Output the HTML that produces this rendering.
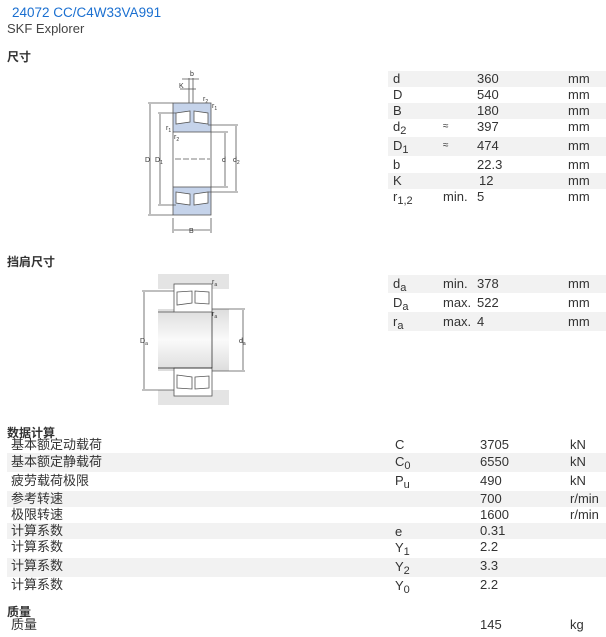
<!DOCTYPE html>
<html><head><meta charset="utf-8"><style>
body{margin:0;width:606px;height:637px;background:#fff;font-family:"Liberation Sans","Noto Sans CJK SC",sans-serif;color:#333;position:relative;overflow:hidden}
.a{position:absolute;white-space:nowrap}
.t{font-size:13px;line-height:16px}
.sh{position:absolute;background:#f2f2f2}
sub{font-size:11px;vertical-align:-3px;line-height:0}
</style></head><body>
<div class="a" style="left:12px;top:5px;font-size:13.5px;color:#1a6fd0">24072 CC/C4W33VA991</div>
<div class="a t" style="left:7px;top:21px;color:#444">SKF Explorer</div>
<div class="a" style="left:7px;top:48px;font-size:12px;font-weight:bold;color:#333">尺寸</div>
<div class="a" style="left:7px;top:253px;font-size:12px;font-weight:bold;color:#333">挡肩尺寸</div>

<div class="sh" style="left:388px;top:71px;width:218px;height:16px"></div>
<div class="sh" style="left:388px;top:103px;width:218px;height:16px"></div>
<div class="sh" style="left:388px;top:137px;width:218px;height:19px"></div>
<div class="sh" style="left:388px;top:173px;width:218px;height:16px"></div>
<div class="a t" style="left:393px;top:71px">d</div><div class="a t" style="left:477px;top:71px">360</div><div class="a t" style="left:568px;top:71px">mm</div>
<div class="a t" style="left:393px;top:87px">D</div><div class="a t" style="left:477px;top:87px">540</div><div class="a t" style="left:568px;top:87px">mm</div>
<div class="a t" style="left:393px;top:103px">B</div><div class="a t" style="left:477px;top:103px">180</div><div class="a t" style="left:568px;top:103px">mm</div>
<div class="a t" style="left:393px;top:119px">d<sub>2</sub></div><div class="a t" style="left:443px;top:119px;font-size:10px">≈</div><div class="a t" style="left:477px;top:119px">397</div><div class="a t" style="left:568px;top:119px">mm</div>
<div class="a t" style="left:393px;top:138px">D<sub>1</sub></div><div class="a t" style="left:443px;top:138px;font-size:10px">≈</div><div class="a t" style="left:477px;top:138px">474</div><div class="a t" style="left:568px;top:138px">mm</div>
<div class="a t" style="left:393px;top:157px">b</div><div class="a t" style="left:477px;top:157px">22.3</div><div class="a t" style="left:568px;top:157px">mm</div>
<div class="a t" style="left:393px;top:173px">K</div><div class="a t" style="left:479px;top:173px">12</div><div class="a t" style="left:568px;top:173px">mm</div>
<div class="a t" style="left:393px;top:189px">r<sub>1,2</sub></div><div class="a t" style="left:443px;top:189px">min.</div><div class="a t" style="left:477px;top:189px">5</div><div class="a t" style="left:568px;top:189px">mm</div>

<div class="sh" style="left:388px;top:275px;width:218px;height:18px"></div>
<div class="sh" style="left:388px;top:312px;width:218px;height:19px"></div>
<div class="a t" style="left:393px;top:276px">d<sub>a</sub></div><div class="a t" style="left:443px;top:276px">min.</div><div class="a t" style="left:477px;top:276px">378</div><div class="a t" style="left:568px;top:276px">mm</div>
<div class="a t" style="left:393px;top:295px">D<sub>a</sub></div><div class="a t" style="left:443px;top:295px">max.</div><div class="a t" style="left:477px;top:295px">522</div><div class="a t" style="left:568px;top:295px">mm</div>
<div class="a t" style="left:393px;top:314px">r<sub>a</sub></div><div class="a t" style="left:443px;top:314px">max.</div><div class="a t" style="left:477px;top:314px">4</div><div class="a t" style="left:568px;top:314px">mm</div>

<div class="a" style="left:7px;top:424px;font-size:12px;font-weight:bold">数据计算</div>
<div class="sh" style="left:7px;top:453px;width:599px;height:19px"></div>
<div class="sh" style="left:7px;top:491px;width:599px;height:16px"></div>
<div class="sh" style="left:7px;top:523px;width:599px;height:16px"></div>
<div class="sh" style="left:7px;top:558px;width:599px;height:19px"></div>
<div class="a t" style="left:11px;top:437px">基本额定动载荷</div><div class="a t" style="left:395px;top:437px">C</div><div class="a t" style="left:480px;top:437px">3705</div><div class="a t" style="left:570px;top:437px">kN</div>
<div class="a t" style="left:11px;top:454px">基本额定静载荷</div><div class="a t" style="left:395px;top:454px">C<sub>0</sub></div><div class="a t" style="left:480px;top:454px">6550</div><div class="a t" style="left:570px;top:454px">kN</div>
<div class="a t" style="left:11px;top:473px">疲劳载荷极限</div><div class="a t" style="left:395px;top:473px">P<sub>u</sub></div><div class="a t" style="left:480px;top:473px">490</div><div class="a t" style="left:570px;top:473px">kN</div>
<div class="a t" style="left:11px;top:491px">参考转速</div><div class="a t" style="left:480px;top:491px">700</div><div class="a t" style="left:570px;top:491px">r/min</div>
<div class="a t" style="left:11px;top:507px">极限转速</div><div class="a t" style="left:480px;top:507px">1600</div><div class="a t" style="left:570px;top:507px">r/min</div>
<div class="a t" style="left:11px;top:523px">计算系数</div><div class="a t" style="left:395px;top:524px">e</div><div class="a t" style="left:480px;top:523px">0.31</div>
<div class="a t" style="left:11px;top:539px">计算系数</div><div class="a t" style="left:395px;top:540px">Y<sub>1</sub></div><div class="a t" style="left:480px;top:539px">2.2</div>
<div class="a t" style="left:11px;top:558px">计算系数</div><div class="a t" style="left:395px;top:559px">Y<sub>2</sub></div><div class="a t" style="left:480px;top:558px">3.3</div>
<div class="a t" style="left:11px;top:577px">计算系数</div><div class="a t" style="left:395px;top:578px">Y<sub>0</sub></div><div class="a t" style="left:480px;top:577px">2.2</div>
<div class="a" style="left:7px;top:603px;font-size:12px;font-weight:bold">质量</div>
<div class="a t" style="left:11px;top:617px">质量</div><div class="a t" style="left:480px;top:617px">145</div><div class="a t" style="left:570px;top:617px">kg</div>

<svg class="a" style="left:0;top:0" width="606" height="637" font-family="Liberation Sans,sans-serif" font-size="7" fill="#333">
<g stroke="#555" stroke-width="0.8" fill="none">
<rect x="173" y="103" width="38" height="29" fill="#c5d3ea"/>
<rect x="173" y="187" width="38" height="28" fill="#c5d3ea"/>
<path d="M176 113 L190 111 L190 122 L176 124Z M194 111 L208 113 L208 124 L194 122Z" fill="#fff"/>
<path d="M176 192 L190 194 L190 205 L176 203Z M194 194 L208 192 L208 203 L194 205Z" fill="#fff"/>
<line x1="173" y1="132" x2="173" y2="187"/><line x1="211" y1="132" x2="211" y2="187"/>
<line x1="148" y1="103" x2="173" y2="103"/><line x1="148" y1="215" x2="173" y2="215"/>
<line x1="150" y1="104" x2="150" y2="214"/>
<line x1="158" y1="113" x2="176" y2="113"/><line x1="158" y1="205" x2="176" y2="205"/>
<line x1="160" y1="114" x2="160" y2="204"/>
<line x1="211" y1="132" x2="228" y2="132"/><line x1="211" y1="187" x2="228" y2="187"/>
<line x1="225" y1="133" x2="225" y2="186"/>
<line x1="208" y1="125" x2="238" y2="125"/><line x1="208" y1="192" x2="238" y2="192"/>
<line x1="236" y1="126" x2="236" y2="191"/>
<line x1="173" y1="218" x2="173" y2="233"/><line x1="211" y1="218" x2="211" y2="233"/>
<line x1="174" y1="230" x2="210" y2="230"/>
<line x1="189" y1="78" x2="189" y2="103"/><line x1="193" y1="78" x2="193" y2="103"/>
<line x1="182" y1="79" x2="199" y2="79"/><line x1="180" y1="89" x2="196" y2="89"/>
<line x1="175" y1="159" x2="210" y2="159" stroke-dasharray="6 2"/>
</g>
<text x="190" y="76">b</text><text x="179" y="88">K</text>
<text x="203" y="101">r<tspan font-size="5" dy="2">2</tspan></text><text x="212" y="108">r<tspan font-size="5" dy="2">1</tspan></text>
<text x="166" y="130">r<tspan font-size="5" dy="2">1</tspan></text><text x="174" y="139">r<tspan font-size="5" dy="2">2</tspan></text>
<text x="145" y="162">D</text><text x="155" y="162">D<tspan font-size="5" dy="2">1</tspan></text>
<text x="222" y="162">d</text><text x="233" y="162">d<tspan font-size="5" dy="2">2</tspan></text>
<text x="189" y="233">B</text>
</svg>

<svg class="a" style="left:0;top:0" width="606" height="637" font-family="Liberation Sans,sans-serif" font-size="7" fill="#333">
<defs><linearGradient id="g" x1="0" y1="0" x2="0" y2="1"><stop offset="0" stop-color="#ddd"/><stop offset="0.5" stop-color="#fafafa"/><stop offset="1" stop-color="#ddd"/></linearGradient></defs>
<rect x="158" y="274" width="71" height="15" fill="#e4e4e4"/>
<rect x="158" y="390" width="71" height="15" fill="#e4e4e4"/>
<rect x="158" y="309" width="71" height="62" fill="url(#g)"/>
<rect x="158" y="309" width="54" height="62" fill="url(#g)"/>
<g stroke="#555" stroke-width="0.8" fill="#fff">
<rect x="174" y="284" width="38" height="28"/>
<rect x="174" y="368" width="38" height="28"/>
<path d="M177 292 L192 291 L192 303 L177 305Z M195 291 L209 292 L209 304 L195 303Z"/>
<path d="M177 375 L192 377 L192 389 L177 388Z M195 377 L209 376 L209 388 L195 389Z"/>
<line x1="212" y1="312" x2="212" y2="368" stroke="#333"/>
<line x1="158" y1="368" x2="212" y2="368" stroke="#222"/>
<line x1="158" y1="312" x2="174" y2="312"/>
<line x1="142" y1="291" x2="174" y2="291"/><line x1="142" y1="390" x2="174" y2="390"/>
<line x1="144" y1="292" x2="144" y2="389" fill="none"/>
<line x1="212" y1="309" x2="245" y2="309"/><line x1="212" y1="371" x2="245" y2="371"/>
<line x1="243" y1="310" x2="243" y2="370" fill="none"/>
</g>
<text x="140" y="343">D<tspan font-size="5" dy="2">a</tspan></text>
<text x="239" y="343">d<tspan font-size="5" dy="2">a</tspan></text>
<text x="212" y="284">r<tspan font-size="5" dy="2">a</tspan></text>
<text x="212" y="316">r<tspan font-size="5" dy="2">a</tspan></text>
</svg>
</body></html>
